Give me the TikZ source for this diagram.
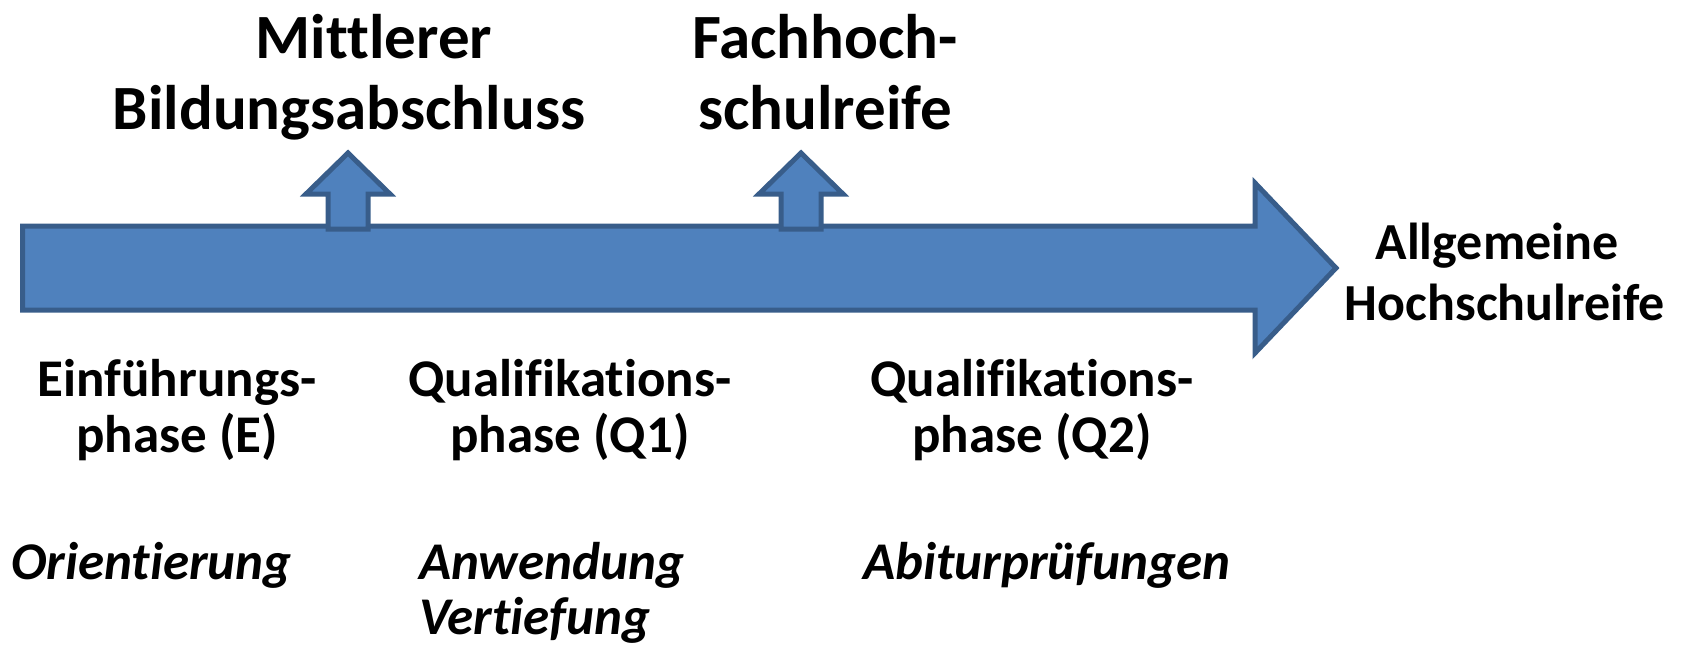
\documentclass[tikz,border=0pt]{standalone}
\usepackage{fontspec}
\setmainfont{Carlito}[Ligatures={CommonOff,ContextualOff,RequiredOff}]
\definecolor{arrowfill}{HTML}{4F81BD}
\definecolor{arrowline}{HTML}{385D8A}
\begin{document}
\begin{tikzpicture}[x=1pt,y=-1pt,
  bigarrow/.style={fill=arrowfill,draw=arrowline,line width=5pt,line join=miter},
  toplabel/.style={inner sep=0pt,align=center,anchor=base,font=\bfseries\fontsize{63}{71}\selectfont},
  endlabel/.style={inner sep=0pt,align=center,anchor=base,font=\bfseries\fontsize{52}{61}\selectfont},
  phaselabel/.style={inner sep=0pt,align=center,anchor=base,font=\bfseries\fontsize{53}{56}\selectfont},
  notelabel/.style={inner sep=0pt,align=left,anchor=base west,font=\bfseries\itshape\fontsize{53}{55}\selectfont}]
\useasboundingbox (0,0) rectangle (1686,651);
% main arrow
\draw[bigarrow] (22.5,226) -- (1255,226) -- (1255,183) -- (1336,268) -- (1255,353) -- (1255,310) -- (22.5,310) -- cycle;
% small up arrows
\foreach \cx in {348,801}{
  \draw[bigarrow] (\cx-20,229) -- (\cx-20,194) -- (\cx-42,194) -- (\cx,153) -- (\cx+42,194) -- (\cx+20,194) -- (\cx+20,229) -- cycle;
}
% labels
\node[toplabel] (mba) at (349,129) {\hspace*{50pt}Mittlerer\\Bildungsabschluss};
\node[toplabel] (fhr) at (825,129) {Fachhoch-\\schulreife};
\node[endlabel] (ahr) at (1505,320) {Allgemeine\hspace*{16pt}\\Hochschulreife};
\node[phaselabel] (pe) at (177,452) {Einführungs-\\phase (E)};
\node[phaselabel] (pq1) at (570,452) {Qualifikations-\\phase (Q1)};
\node[phaselabel] (pq2) at (1032,452) {Qualifikations-\\phase (Q2)};
\node[notelabel] (ne) at (11,579) {Orientierung};
\node[notelabel] (nq1) at (419,634) {Anwendung\\Vertiefung};
\node[notelabel] (nq2) at (863,579) {Abiturprüfungen};
\end{tikzpicture}
\end{document}
